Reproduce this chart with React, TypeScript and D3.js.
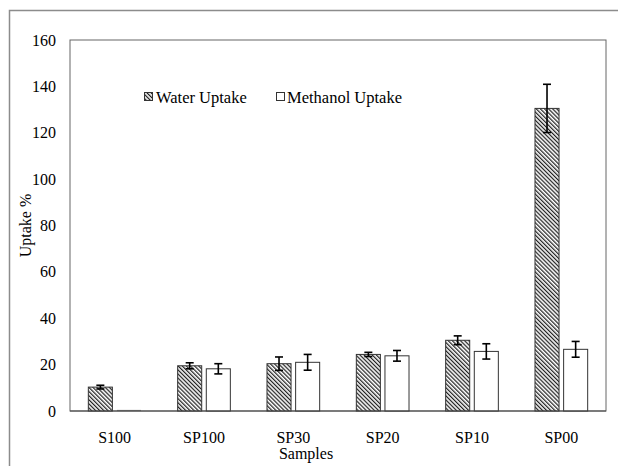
import React from "react";
import * as d3 from "d3";

const samples = ["S100", "SP100", "SP30", "SP20", "SP10", "SP00"];
const waterUptake = [10.3, 19.5, 20.4, 24.4, 30.5, 130.5];
const waterErr = [0.8, 1.3, 2.9, 0.9, 1.9, 10.4];
const methanolUptake = [0, 18.2, 21.0, 23.8, 25.7, 26.6];
const methanolErr = [0, 2.2, 3.4, 2.3, 3.3, 3.4];
const yTicks = [0, 20, 40, 60, 80, 100, 120, 140, 160];
const seriesNames = ["Water Uptake", "Methanol Uptake"];

const W = 618;
const H = 466;
const plot = { left: 70, right: 606, top: 40, bottom: 411 };
const font = '"Liberation Serif", "Times New Roman", "DejaVu Serif", serif';

export default function App() {
  const x = d3.scaleBand<string>().domain(samples).range([plot.left, plot.right]);
  const inner = d3
    .scaleBand<string>()
    .domain(seriesNames)
    .range([0, x.bandwidth()])
    .paddingInner(0.16)
    .paddingOuter(0.64);
  const y = d3.scaleLinear().domain([0, 160]).range([plot.bottom, plot.top]);

  const series = [
    { name: seriesNames[0], values: waterUptake, errs: waterErr, fill: "url(#hatch)" },
    { name: seriesNames[1], values: methanolUptake, errs: methanolErr, fill: "#ffffff" },
  ];

  const txt = { fontFamily: font, fill: "#000" };

  return (
    <svg
      width={W}
      height={H}
      style={{ position: "absolute", left: 0, top: 0, background: "#fff", fontFamily: font }}
    >
      <defs>
        <pattern
          id="hatch"
          patternUnits="userSpaceOnUse"
          width={2.9}
          height={2.9}
          patternTransform="rotate(-45)"
        >
          <rect width={2.9} height={2.9} fill="#fff" />
          <line x1={0.6} y1={0} x2={0.6} y2={2.9} stroke="#222" strokeWidth={1.3} />
        </pattern>
      </defs>

      {/* outer chart border (cropped) */}
      <path d={`M9.5,${H} V10.5 H${W}`} fill="none" stroke="#8c8c8c" strokeWidth={1.5} />

      {/* plot area box */}
      <rect
        x={plot.left}
        y={plot.top}
        width={plot.right - plot.left}
        height={plot.bottom - plot.top}
        fill="none"
        stroke="#666"
        strokeWidth={1}
      />

      {/* y tick labels */}
      {yTicks.map((t) => (
        <text key={t} x={56} y={y(t)} dy="0.35em" textAnchor="end" fontSize={16} style={txt}>
          {t}
        </text>
      ))}

      {/* bars */}
      {samples.map((s, i) => (
        <g key={s}>
          {series.map((sr) => {
            const bx = (x(s) ?? 0) + (inner(sr.name) ?? 0);
            const v = sr.values[i];
            const e = sr.errs[i];
            const cx = bx + inner.bandwidth() / 2;
            return (
              <g key={sr.name}>
                {v > 0 ? (
                  <rect
                    x={bx}
                    y={y(v)}
                    width={inner.bandwidth()}
                    height={y(0) - y(v)}
                    fill={sr.fill}
                    stroke="#333"
                    strokeWidth={1}
                  />
                ) : (
                  <line x1={bx} x2={bx + inner.bandwidth()} y1={y(0) - 0.5} y2={y(0) - 0.5} stroke="#777" strokeWidth={1.2} />
                )}
                {e > 0 && (
                  <g stroke="#000" strokeWidth={1.6}>
                    <line x1={cx} x2={cx} y1={y(v + e)} y2={y(v - e)} />
                    <line x1={cx - 4} x2={cx + 4} y1={y(v + e)} y2={y(v + e)} />
                    <line x1={cx - 4} x2={cx + 4} y1={y(v - e)} y2={y(v - e)} />
                  </g>
                )}
              </g>
            );
          })}
        </g>
      ))}

      {/* x axis line */}
      <line x1={plot.left} x2={plot.right} y1={y(0)} y2={y(0)} stroke="#444" strokeWidth={1.2} />

      {/* x tick labels */}
      {samples.map((s) => (
        <text
          key={s}
          x={(x(s) ?? 0) + x.bandwidth() / 2}
          y={437}
          dy="0.35em"
          textAnchor="middle"
          fontSize={16}
          style={txt}
        >
          {s}
        </text>
      ))}

      {/* axis titles */}
      <text x={W / 2 - 3} y={453} dy="0.35em" textAnchor="middle" fontSize={16} style={txt}>
        Samples
      </text>
      <text
        transform={`translate(25,${(plot.top + plot.bottom) / 2}) rotate(-90)`}
        dy="0.35em"
        textAnchor="middle"
        fontSize={16}
        style={txt}
      >
        Uptake %
      </text>

      {/* legend */}
      <g>
        <rect x={144.5} y={92.5} width={8} height={8} fill="url(#hatch)" stroke="#333" strokeWidth={1} />
        <text x={156} y={97} dy="0.35em" fontSize={16.5} style={txt}>
          {seriesNames[0]}
        </text>
        <rect x={276.5} y={92.5} width={8} height={8} fill="#fff" stroke="#333" strokeWidth={1} />
        <text x={287} y={97} dy="0.35em" fontSize={16.5} style={txt}>
          {seriesNames[1]}
        </text>
      </g>
    </svg>
  );
}
